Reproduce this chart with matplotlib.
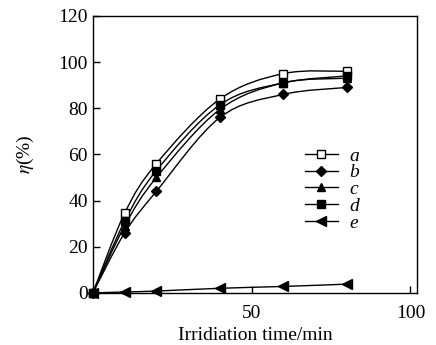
import numpy as np
import matplotlib
matplotlib.use("Agg")
import matplotlib.pyplot as plt
from matplotlib.path import Path
from matplotlib.patches import PathPatch

plt.rcParams["font.family"] = ["Liberation Serif", "DejaVu Serif"]
plt.rcParams["mathtext.fontset"] = "stix"

# Data
time_min = [0, 10, 20, 40, 60, 80]
eta_a = [0, 34.5, 56, 84, 95, 96]
eta_b = [0, 26, 44, 76, 86, 89]
eta_c = [0, 29, 50, 79.5, 91, 93]
eta_d = [0, 31, 53, 81.5, 91, 94]
eta_e = [0, 0.4, 0.8, 2.0, 2.8, 3.8]

labels = ["a", "b", "c", "d", "e"]
markers = ["s", "D", "^", "s", "<"]
fills = ["white", "black", "black", "black", "black"]
sizes = [5.5, 5.5, 6, 5.5, 7]


def smooth_path(x, y):
    # Catmull-Rom through the points, as cubic Bezier segments
    x = np.asarray(x, float)
    y = np.asarray(y, float)
    pts = np.column_stack([x, y])
    verts = [pts[0]]
    codes = [Path.MOVETO]
    n = len(pts)
    for i in range(n - 1):
        p0 = pts[i - 1] if i > 0 else pts[i]
        p1 = pts[i]
        p2 = pts[i + 1]
        p3 = pts[i + 2] if i + 2 < n else pts[i + 1]
        c1 = p1 + (p2 - p0) / 6.0
        c2 = p2 - (p3 - p1) / 6.0
        verts += [c1, c2, p2]
        codes += [Path.CURVE4] * 3
    return Path(verts, codes)


fig = plt.figure(figsize=(4.36, 3.45), dpi=100)
ax = fig.add_axes([0.213, 0.151, 0.743, 0.803])

series = [eta_a, eta_b, eta_c, eta_d, eta_e]
for vals, lab, mk, fc, ms in zip(series, labels, markers, fills, sizes):
    ax.add_patch(PathPatch(smooth_path(time_min, vals), facecolor="none",
                           edgecolor="black", lw=1.0, transform=ax.transData))
    ax.plot(time_min, vals, linestyle="none", marker=mk, markersize=ms,
            markerfacecolor=fc, markeredgecolor="black", label=lab, zorder=3,
            clip_on=False)

leg_handles = [plt.Line2D([], [], color="black", lw=1.0, marker=m,
                          markersize=s, markerfacecolor=f, markeredgecolor="black")
               for m, f, s in zip(markers, fills, sizes)]
ax.legend(leg_handles, labels, loc="upper left", bbox_to_anchor=(0.6, 0.59),
          frameon=False, handlelength=1.7, handletextpad=0.6,
          labelspacing=-0.04, prop={"style": "italic", "size": 14})

ax.set_xlim(0, 102)
ax.set_ylim(0, 120)
ax.set_xticks([50, 100])
ax.set_yticks(range(0, 121, 20))
ax.tick_params(direction="in", labelsize=14, length=5, width=1)
ax.tick_params(axis="x", pad=9)
for s in ax.spines.values():
    s.set_linewidth(1.0)

ax.set_xlabel("Irridiation time/min", fontsize=14, labelpad=3)
ax.set_ylabel(r"$\eta$(%)", fontsize=14, labelpad=16)

fig.savefig("out.png", dpi=100)
